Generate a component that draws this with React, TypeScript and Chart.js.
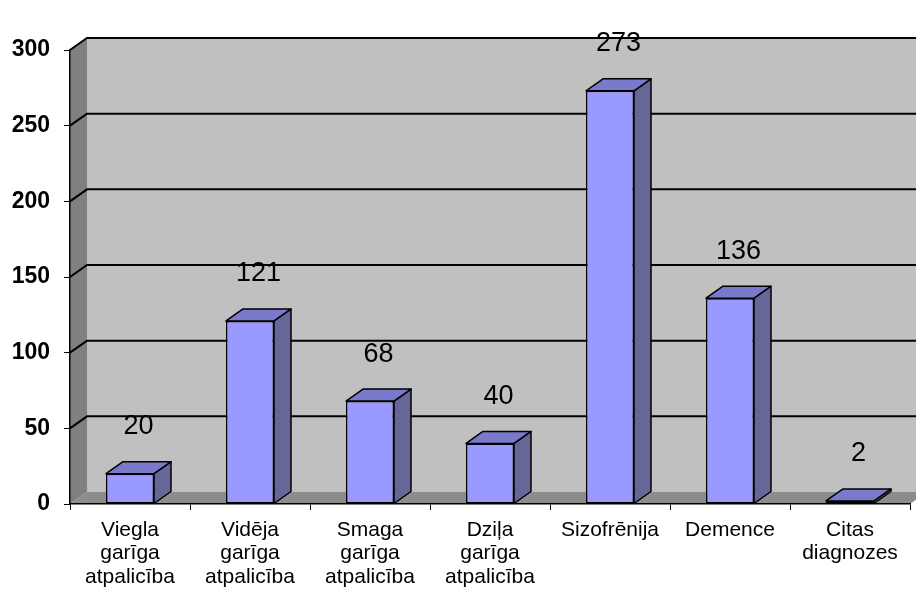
import React, { useEffect, useRef } from "react";
import { Chart, registerables } from "chart.js";

Chart.register(...registerables);

const categories: (string | string[])[] = [
  ["Viegla", "garīga", "atpalicība"],
  ["Vidēja", "garīga", "atpalicība"],
  ["Smaga", "garīga", "atpalicība"],
  ["Dziļa", "garīga", "atpalicība"],
  "Sizofrēnija",
  "Demence",
  ["Citas", "diagnozes"],
];
const values: number[] = [20, 121, 68, 40, 273, 136, 2];
const yMin = 0;
const yMax = 300;
const yStep = 50;

const FONT = "'Liberation Sans', Arial, sans-serif";
const DX = 17;
const DY = -12;

const depthPlugin = {
  id: "depth3d",
  beforeDraw(chart: any) {
    const { ctx, chartArea } = chart;
    const { left, right, top, bottom } = chartArea;
    const y = chart.scales.y;
    ctx.save();
    // back wall
    ctx.fillStyle = "#C0C0C0";
    ctx.fillRect(left + DX, top + DY, right - left, bottom - top);
    // left wall
    ctx.fillStyle = "#808080";
    ctx.beginPath();
    ctx.moveTo(left, top);
    ctx.lineTo(left + DX, top + DY);
    ctx.lineTo(left + DX, bottom + DY);
    ctx.lineTo(left, bottom);
    ctx.closePath();
    ctx.fill();
    // floor
    ctx.fillStyle = "#8C8C8C";
    ctx.beginPath();
    ctx.moveTo(left, bottom);
    ctx.lineTo(left + DX, bottom + DY);
    ctx.lineTo(right + DX, bottom + DY);
    ctx.lineTo(right, bottom);
    ctx.closePath();
    ctx.fill();
    // gridlines
    ctx.strokeStyle = "#000";
    ctx.lineWidth = 2;
    for (let v = yMin + yStep; v <= yMax; v += yStep) {
      const py = y.getPixelForValue(v);
      ctx.beginPath();
      ctx.moveTo(left, py);
      ctx.lineTo(left + DX, py + DY);
      ctx.lineTo(right + DX, py + DY);
      ctx.stroke();
    }
    ctx.restore();
  },
  afterDatasetsDraw(chart: any) {
    const { ctx } = chart;
    const meta = chart.getDatasetMeta(0);
    ctx.save();
    ctx.lineWidth = 1.5;
    ctx.strokeStyle = "#000";
    ctx.lineJoin = "round";
    meta.data.forEach((bar: any, i: number) => {
      const { x, y, base, width } = bar.getProps(["x", "y", "base", "width"], true);
      const l = x - width / 2;
      const r = x + width / 2;
      // side face
      ctx.fillStyle = "#666699";
      ctx.beginPath();
      ctx.moveTo(r, base);
      ctx.lineTo(r + DX, base + DY);
      ctx.lineTo(r + DX, y + DY);
      ctx.lineTo(r, y);
      ctx.closePath();
      ctx.fill();
      ctx.stroke();
      // top face
      ctx.fillStyle = "#7A7ACC";
      ctx.beginPath();
      ctx.moveTo(l, y);
      ctx.lineTo(l + DX, y + DY);
      ctx.lineTo(r + DX, y + DY);
      ctx.lineTo(r, y);
      ctx.closePath();
      ctx.fill();
      ctx.stroke();
      // value label
      ctx.fillStyle = "#000";
      ctx.font = `27px ${FONT}`;
      ctx.textAlign = "center";
      ctx.textBaseline = "middle";
      ctx.fillText(String(values[i]), x + DX / 2, y + DY - 35);
    });
    ctx.restore();
  },
};

export default function App() {
  const ref = useRef<HTMLCanvasElement>(null);
  useEffect(() => {
    if (!ref.current) return;
    const chart = new Chart(ref.current, {
      type: "bar",
      data: {
        labels: categories,
        datasets: [
          {
            data: values,
            backgroundColor: "#9999FF",
            borderColor: "#000",
            borderWidth: 1.5,
            borderSkipped: false,
            barPercentage: 0.4,
            categoryPercentage: 1,
          },
        ],
      },
      options: {
        responsive: false,
        animation: false,
        layout: { padding: { top: 50, right: 6, left: 0, bottom: 0 } },
        plugins: { legend: { display: false }, tooltip: { enabled: false } },
        scales: {
          x: {
            grid: {
              offset: true,
              drawOnChartArea: false,
              drawTicks: true,
              tickLength: 6,
              color: "#000",
              lineWidth: 1,
            },
            border: { display: true, color: "#000", width: 1.5 },
            ticks: {
              color: "#000",
              font: { family: FONT, size: 21, lineHeight: 1.12 },
              padding: 8,
              maxRotation: 0,
              autoSkip: false,
            },
            afterFit(scale: any) {
              scale.height = 85;
            },
          },
          y: {
            min: yMin,
            max: yMax,
            grid: {
              drawOnChartArea: false,
              drawTicks: true,
              tickLength: 6,
              color: "#000",
              lineWidth: 1,
            },
            border: { display: true, color: "#000", width: 1.5 },
            ticks: {
              stepSize: yStep,
              color: "#000",
              font: { family: FONT, size: 23, weight: "bold" },
              padding: 14,
            },
            afterFit(scale: any) {
              scale.width = 70;
            },
          },
        },
      },
      plugins: [depthPlugin],
    });
    return () => chart.destroy();
  }, []);
  return (
    <canvas
      ref={ref}
      width={916}
      height={589}
      style={{ position: "fixed", left: 0, top: 0, display: "block" }}
    />
  );
}
